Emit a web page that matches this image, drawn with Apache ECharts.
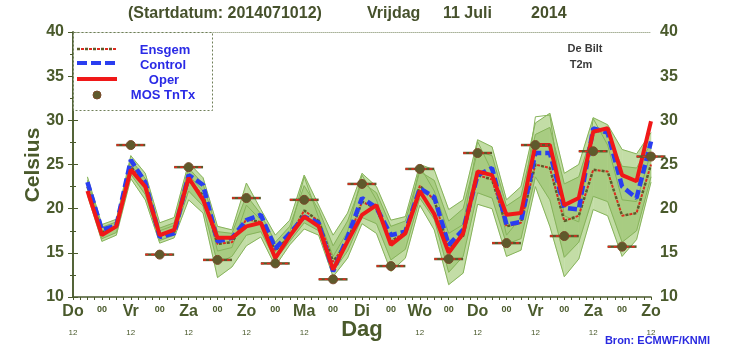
<!DOCTYPE html>
<html><head><meta charset="utf-8">
<script src="https://cdn.jsdelivr.net/npm/echarts@6/dist/echarts.min.js"></script>
<style>html,body{margin:0;padding:0;background:#fff}#c{width:732px;height:349px}</style>
</head><body><div id="c"></div>
<script>
// hours after start (Do 12 UTC)
const hours = [6,12,18,24,30,36,42,48,54,60,66,72,78,84,90,96,102,108,114,120,126,132,138,144,150,156,162,168,174,180,186,192,198,204,210,216,222,228,234,240];
const dayLabels = ['Do','Vr','Za','Zo','Ma','Di','Wo','Do','Vr','Za','Zo'];
const yTicks = [10,15,20,25,30,35,40];

const oper = [22.0,17.0,18.0,24.4,22.5,17.0,17.6,23.5,21.0,16.7,16.7,18.0,18.4,14.4,16.9,19.1,18.0,13.1,16.3,19.3,20.4,15.9,17.2,22.0,19.4,15.0,17.2,24.2,23.8,19.3,19.5,27.2,27.2,20.4,21.2,28.7,29.1,23.8,23.1,29.9];
const control = [23.0,17.6,18.1,25.5,23.0,16.8,17.2,23.8,22.7,16.3,16.7,18.7,19.3,15.5,17.2,19.1,18.4,12.9,16.8,21.2,20.1,17.0,17.4,22.3,21.3,15.9,17.6,23.8,24.6,18.2,18.5,26.3,26.3,20.1,19.9,29.1,28.6,22.5,21.2,27.6];
const ensgem = [22.5,17.3,17.9,24.8,22.6,16.9,17.4,23.2,21.5,16.0,16.2,18.8,18.5,15.3,16.8,19.8,18.6,14.0,16.3,20.8,20.0,16.3,17.3,22.6,21.0,15.5,16.9,23.8,23.3,18.0,18.4,25.0,24.6,18.6,19.2,24.4,24.2,19.2,19.5,25.0];
const ensMax = [23.6,18.2,18.8,26.0,24.0,18.4,19.0,25.2,23.5,18.0,17.6,22.9,19.9,17.0,18.7,23.8,20.4,17.0,19.5,24.0,22.5,18.7,19.1,25.0,24.4,19.9,21.0,27.8,27.0,21.0,22.5,29.7,30.8,24.0,25.0,30.3,29.5,26.7,26.2,28.6];
const ensMin = [21.5,16.3,17.0,23.4,21.0,16.1,16.7,21.0,19.5,12.2,13.4,15.8,16.8,13.5,15.9,17.7,17.0,12.3,14.4,18.3,17.2,12.9,14.4,20.4,17.6,11.4,12.7,20.5,20.0,14.6,15.3,22.5,18.0,12.3,14.3,19.9,19.2,14.6,16.5,23.0];
const memberA = [23.2,17.9,18.5,25.6,23.4,17.8,18.4,24.6,22.8,17.4,17.2,21.5,19.4,16.2,18.0,22.6,19.9,15.8,18.6,23.0,21.8,18.0,18.6,24.2,23.2,18.6,20.0,26.5,26.0,20.3,21.4,28.4,29.2,22.8,23.6,28.9,28.4,24.8,24.6,27.4];
const memberB = [21.8,16.6,17.3,23.9,21.6,16.4,17.0,22.0,20.3,13.8,14.6,17.0,17.4,14.2,16.3,18.4,17.5,12.9,15.2,19.0,18.3,14.2,15.4,21.2,18.8,12.8,14.6,21.8,21.2,16.0,16.6,23.6,21.0,14.5,16.2,21.4,20.8,16.2,17.5,23.6];
const memberC = [22.6,17.1,17.8,24.6,22.9,17.5,18.1,23.8,22.0,15.2,15.6,20.4,18.7,15.1,17.3,23.6,19.0,14.6,17.4,23.8,21.0,16.2,17.0,24.8,22.0,17.2,18.2,27.6,24.2,17.0,19.0,30.4,30.6,19.2,18.5,30.2,27.2,21.0,20.8,26.4];

const mosHours = [24,48,72,96,120,144,168,192,216,240,36,60,84,108,132,156,180,204,228];
const mosVals  = [27.2,24.7,21.2,21.0,22.8,24.5,26.3,27.2,26.5,25.9,14.8,14.2,13.8,12.0,13.5,14.3,16.1,16.9,15.7];

const OL = '#4a5a2c';
const FONT = '"Liberation Sans", Arial, sans-serif';

function pairs(arr){ return hours.map((h,i)=>[h,arr[i]]); }

const chart = echarts.init(document.getElementById('c'), null, {renderer:'canvas'});

const bandData = hours.map((h,i)=>[h, ensMin[i], ensMax[i]]);
const innerData = hours.map((h,i)=>[h, memberB[i], memberA[i]]);
function bandRender(src, color){
  return function(params, api){
    const i = params.dataIndex;
    if (i >= src.length-1) return null;
    const a = src[i], b = src[i+1];
    const pts = [api.coord([a[0],a[1]]), api.coord([b[0],b[1]]), api.coord([b[0],b[2]]), api.coord([a[0],a[2]])];
    return {type:'polygon', shape:{points:pts}, style:{fill:color, stroke:color, lineWidth:0.5}};
  };
}

const memberLine = (arr)=>({type:'line', data:pairs(arr), symbol:'none', lineStyle:{color:'#86b35a', width:1}, z:3, silent:true, animation:false});

chart.setOption({
  animation:false,
  grid:{left:73, right:81, top:32, bottom:52},
  xAxis:[{
    type:'value', min:0, max:240, interval:12, position:'bottom',
    axisLine:{lineStyle:{color:OL, width:1.5}},
    axisTick:{show:true, length:3, lineStyle:{color:OL}},
    minorTick:{show:true, splitNumber:4, length:3, lineStyle:{color:OL}},
    splitLine:{show:false},
    axisLabel:{
      margin:4, color:OL,
      formatter:function(v){
        const k = Math.round(v/12);
        if (k%2===0) return '{d|'+dayLabels[k/2]+'}\n{s|12}';
        return '{z|00}\n{s| }';
      },
      rich:{
        d:{fontSize:16, fontWeight:'bold', fontFamily:FONT, color:OL, lineHeight:22},
        z:{fontSize:9, fontWeight:'bold', fontFamily:FONT, color:OL, lineHeight:18},
        s:{fontSize:8, fontFamily:FONT, color:OL, lineHeight:20}
      }
    }
  },{
    type:'value', min:0, max:240, position:'top',
    axisLine:{lineStyle:{color:'#a9b39a', width:1, type:'dotted'}},
    axisTick:{show:false}, axisLabel:{show:false}, splitLine:{show:false}
  }],
  yAxis:[{
    type:'value', min:10, max:40, interval:5, position:'left',
    axisLine:{show:true, lineStyle:{color:OL, width:1.5}},
    axisTick:{show:true, length:5, lineStyle:{color:OL}},
    minorTick:{show:true, splitNumber:2, length:3, lineStyle:{color:OL}},
    splitLine:{show:false},
    axisLabel:{margin:9, color:OL, fontSize:16, fontWeight:'bold', fontFamily:FONT,
      formatter:function(v){ return yTicks.indexOf(v)>=0 ? String(v) : ''; }}
  },{
    type:'value', min:10, max:40, interval:5, position:'right',
    axisLine:{show:true, lineStyle:{color:OL, width:1.5}},
    axisTick:{show:true, length:5, lineStyle:{color:OL}},
    minorTick:{show:true, splitNumber:2, length:3, lineStyle:{color:OL}},
    splitLine:{show:false},
    axisLabel:{margin:9, color:OL, fontSize:16, fontWeight:'bold', fontFamily:FONT,
      formatter:function(v){ return yTicks.indexOf(v)>=0 ? String(v) : ''; }}
  }],
  series:[
    {type:'custom', data:bandData, renderItem:bandRender(bandData, '#c3dda6'), z:1, silent:true},
    {type:'custom', data:innerData, renderItem:bandRender(innerData, '#a8cc82'), z:2, silent:true},
    memberLine(ensMax), memberLine(ensMin), memberLine(memberA), memberLine(memberB), memberLine(memberC),
    {type:'line', data:pairs(ensgem), symbol:'none', z:4, lineStyle:{color:'#5b5c2a', width:2.5, type:[3,5]}},
    {type:'line', data:pairs(ensgem), symbol:'none', z:4, lineStyle:{color:'#dd2a1e', width:2, type:[3,5], dashOffset:4}},
    {type:'line', data:pairs(control), symbol:'none', z:5, lineStyle:{color:'#2a3ef0', width:4.5, type:[9,4]}},
    {type:'line', data:pairs(oper), symbol:'none', z:6, lineStyle:{color:'#f01818', width:4}},
    {type:'custom', data:mosHours.map((h,i)=>[h,mosVals[i]]), z:8, clip:false,
      renderItem:function(params, api){
        const h = api.value(0), v = api.value(1);
        const p0 = api.coord([h-6, v]), p1 = api.coord([h+6, v]), c = api.coord([h, v]);
        return {type:'group', children:[
          {type:'line', shape:{x1:p0[0], y1:p0[1], x2:p1[0], y2:p1[1]}, style:{stroke:'#5a5a2a', lineWidth:2.5}},
          {type:'line', shape:{x1:p0[0], y1:p0[1], x2:p1[0], y2:p1[1]}, style:{stroke:'#e8281e', lineWidth:1.5, lineDash:[3,3]}},
          {type:'circle', shape:{cx:c[0], cy:c[1], r:4.5}, style:{fill:'#5e5a2c', stroke:'#7a4a2a', lineWidth:1}}
        ]};
      }}
  ],
  graphic:[
    {type:'text', x:128, y:6, style:{text:'(Startdatum: 2014071012)', font:'bold 16px '+FONT, fill:'#46512c'}},
    {type:'text', x:367, y:6, style:{text:'Vrijdag', font:'bold 16px '+FONT, fill:'#46512c'}},
    {type:'text', x:443, y:6, style:{text:'11 Juli', font:'bold 16px '+FONT, fill:'#46512c'}},
    {type:'text', x:531, y:6, style:{text:'2014', font:'bold 16px '+FONT, fill:'#46512c'}},
    {type:'text', x:33, y:165, rotation:Math.PI/2, style:{text:'Celsius', font:'bold 21px '+FONT, fill:OL, align:'center', verticalAlign:'middle'}},
    {type:'text', x:362, y:330, style:{text:'Dag', font:'bold 22px '+FONT, fill:OL, align:'center', verticalAlign:'middle'}},
    {type:'text', x:585, y:49, style:{text:'De Bilt', font:'bold 11px '+FONT, fill:'#3a3a3a', align:'center', verticalAlign:'middle'}},
    {type:'text', x:581, y:65, style:{text:'T2m', font:'bold 11px '+FONT, fill:'#3a3a3a', align:'center', verticalAlign:'middle'}},
    {type:'text', x:710, y:341, style:{text:'Bron: ECMWF/KNMI', font:'bold 11px '+FONT, fill:'#2a2ae0', align:'right', verticalAlign:'middle'}},
    // legend box
    {type:'rect', shape:{x:73.5, y:32.5, width:139, height:78}, style:{fill:'#fff', stroke:'#6f7f58', lineWidth:1, lineDash:[2,2]}, z:10},
    {type:'line', shape:{x1:77, y1:49, x2:117, y2:49}, style:{stroke:'#5b5c2a', lineWidth:2.5, lineDash:[3,5]}, z:11},
    {type:'line', shape:{x1:81, y1:49, x2:117, y2:49}, style:{stroke:'#dd2a1e', lineWidth:2, lineDash:[3,5]}, z:11},
    {type:'line', shape:{x1:77, y1:63, x2:117, y2:63}, style:{stroke:'#2a3ef0', lineWidth:4, lineDash:[10,4]}, z:11},
    {type:'line', shape:{x1:77, y1:79, x2:117, y2:79}, style:{stroke:'#f01818', lineWidth:4}, z:11},
    {type:'circle', shape:{cx:97, cy:95, r:4}, style:{fill:'#5e5a2c', stroke:'#7a4a2a', lineWidth:1}, z:11},
    {type:'text', x:165, y:50, style:{text:'Ensgem', font:'bold 13px '+FONT, fill:'#2a2ae6', align:'center', verticalAlign:'middle'}, z:11},
    {type:'text', x:163, y:65, style:{text:'Control', font:'bold 13px '+FONT, fill:'#2a2ae6', align:'center', verticalAlign:'middle'}, z:11},
    {type:'text', x:164, y:80, style:{text:'Oper', font:'bold 13px '+FONT, fill:'#2a2ae6', align:'center', verticalAlign:'middle'}, z:11},
    {type:'text', x:163, y:95, style:{text:'MOS TnTx', font:'bold 13px '+FONT, fill:'#2a2ae6', align:'center', verticalAlign:'middle'}, z:11}
  ]
});
</script></body></html>
